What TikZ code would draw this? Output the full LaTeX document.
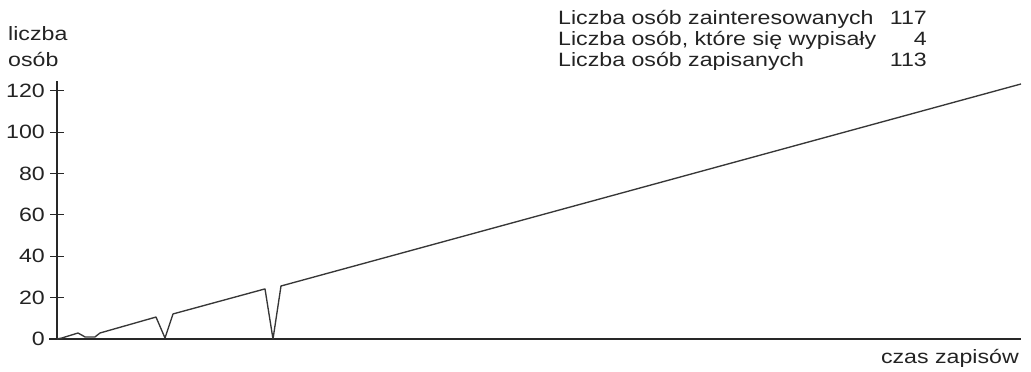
\documentclass[tikz,border=0pt]{standalone}
\usepackage{fontspec}
\setmainfont[FakeStretch=1.2]{Liberation Sans}
\begin{document}
\begin{tikzpicture}[x=1pt,y=1pt]
  % Define colors
  \definecolor{axiscolor}{RGB}{40,40,40}
  \definecolor{linecolor}{RGB}{55,55,55}
  \definecolor{textcolor}{RGB}{35,35,35}
  \tikzset{lbl/.style={text=textcolor, font=\fontsize{19.3}{22}\selectfont, inner sep=0pt}}

  \useasboundingbox (0,0) rectangle (1031,372);

  \begin{scope}[shift={(57,33)}, y=2.07pt]
    % Axes
    \draw[axiscolor, line width=1.8pt] (-8,0) -- (964,0);
    \draw[axiscolor, line width=1.4pt] (0,0) -- (0,124.6);

    % Ticks with their values
    \foreach \v in {0,20,...,120} {
      \draw[axiscolor, line width=0.9pt] (-7,\v) -- (7,\v);
      \node[lbl, anchor=east] (tick\v) at (-12,\v) {\v};
    }

    % Number of people over time
    \draw[linecolor, line width=1.35pt, line join=round] plot coordinates {
      (0,0) (5,0.5) (21,2.9) (28,1.0) (38,1.0) (43,2.9) (99,10.6) (108,0.5)
      (116,12.1) (208,24.2) (216,0) (224,25.6) (964,123.2)};
  \end{scope}

  % Axis labels
  \node[lbl, anchor=base west] (ylab1) at (8,331) {liczba};
  \node[lbl, anchor=base west] (ylab2) at (8,305) {osób};
  \node[lbl, anchor=base east] (xlab) at (1019,8) {czas zapisów};

  % Legend
  \node[lbl, anchor=base west] (leg1) at (558,347) {Liczba osób zainteresowanych};
  \node[lbl, anchor=base west] (leg2) at (558,326) {Liczba osób, które się wypisały};
  \node[lbl, anchor=base west] (leg3) at (558,305) {Liczba osób zapisanych};
  \node[lbl, anchor=base east] (num1) at (927,347) {117};
  \node[lbl, anchor=base east] (num2) at (927,326) {4};
  \node[lbl, anchor=base east] (num3) at (927,305) {113};
\end{tikzpicture}
\end{document}
